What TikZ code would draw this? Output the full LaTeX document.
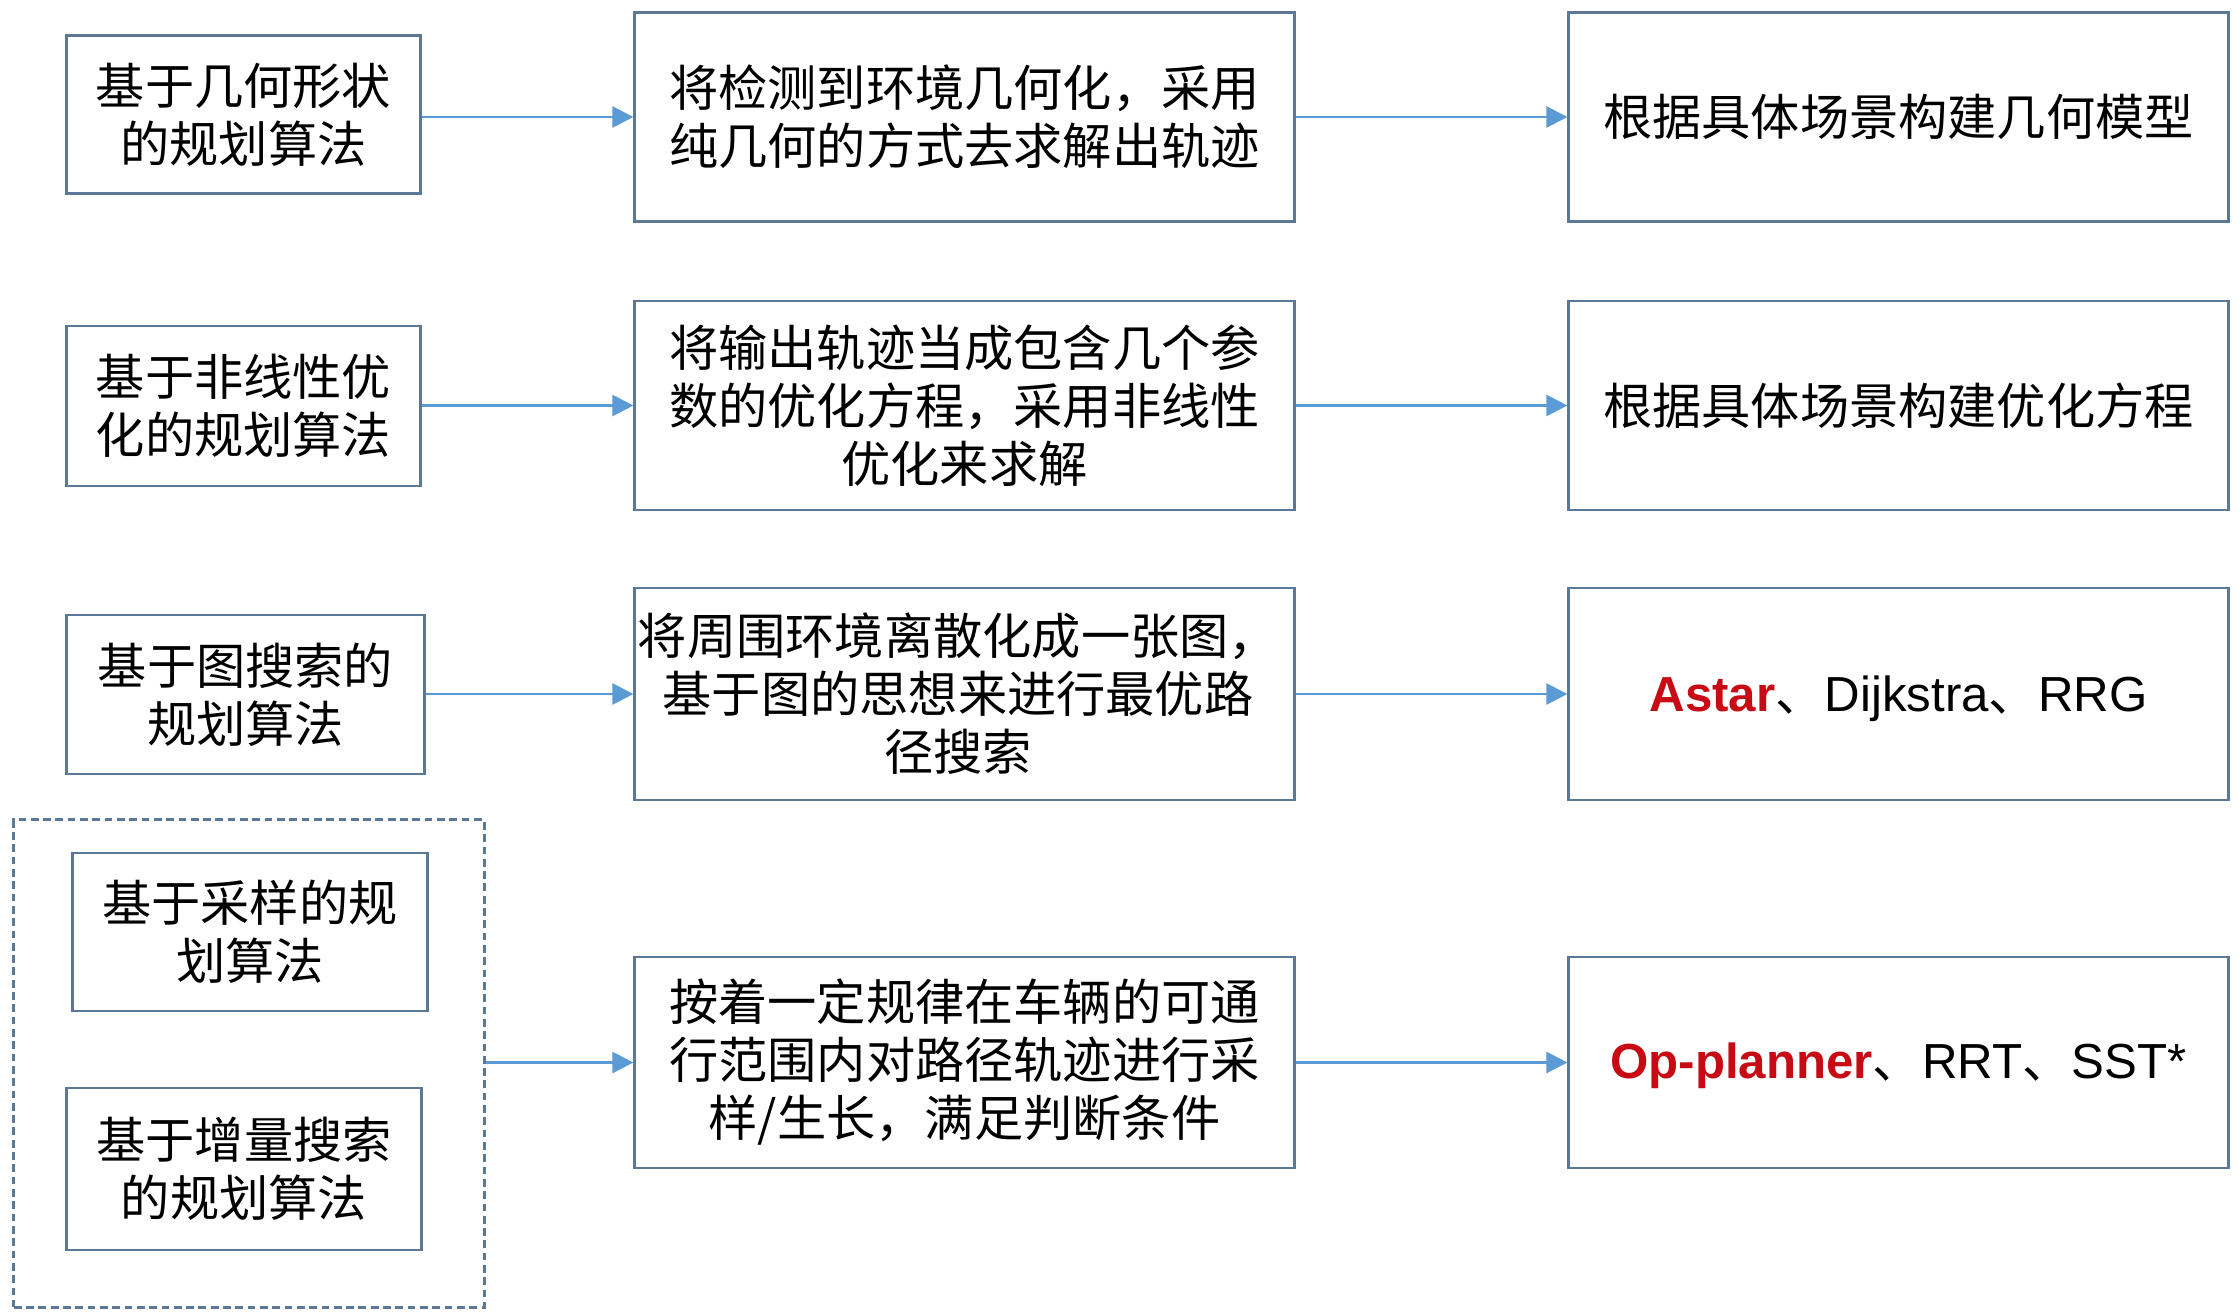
\documentclass[tikz,border=0pt]{standalone}
\usepackage{fontspec}
\setmainfont{Liberation Sans}
\newfontfamily\cjk{Noto Sans CJK SC}
\usetikzlibrary{arrows.meta}
\definecolor{boxc}{HTML}{5B7896}
\definecolor{arrc}{HTML}{5B9BD5}
\definecolor{redt}{HTML}{C80A14}
\tikzset{
  box/.style={draw=boxc, line width=0.8pt, fill=white, inner sep=0pt, align=center,
    font=\cjk\fontsize{14}{16.5}\selectfont},
  abox/.style={box, minimum width=3.53cm, minimum height=1.58cm},
  bbox/.style={box, minimum width=6.59cm, minimum height=2.09cm},
  txt/.style={inner sep=0pt, align=center},
  grpbox/.style={draw=boxc, line width=0.8pt, dash pattern=on 2.2pt off 1.3pt, inner sep=0pt,
    minimum width=4.70cm, minimum height=4.87cm},
  arr/.style={draw=arrc, line width=0.7pt, -{Triangle[length=6pt,width=6pt]}},
}
\newcommand{\dun}{{\cjk 、}}
\begin{document}
\begin{tikzpicture}[x=0.01cm,y=-0.01cm]
\useasboundingbox[fill=white] (0,0) rectangle (2239,1312);
% row 1
\node[abox] (A1) at (243.5,114.5) {基于几何形状\\的规划算法};
\node[bbox] (B1) at (964.5,117) {将检测到环境几何化，采用\\纯几何的方式去求解出轨迹};
\node[bbox] (C1) at (1898.5,117) {根据具体场景构建几何模型};
% row 2
\node[abox, minimum height=1.60cm] (A2) at (243.5,406) {基于非线性优\\化的规划算法};
\node[bbox] (B2) at (964.5,405.5) {将输出轨迹当成包含几个参\\数的优化方程，采用非线性\\优化来求解};
\node[bbox] (C2) at (1898.5,405.5) {根据具体场景构建优化方程};
% row 3
\node[abox, minimum width=3.57cm, minimum height=1.59cm] (A3) at (245.5,694.5) {基于图搜索的\\规划算法};
\node[bbox, minimum height=2.12cm] (B3) at (964.5,694) {};
\node[txt, font=\cjk\fontsize{14}{16.5}\selectfont] (B3t) at (958,694) {将周围环境离散化成一张图，\\基于图的思想来进行最优路\\径搜索};
\node[bbox, minimum height=2.12cm] (C3) at (1898.5,694) {};
\node[txt, font=\fontsize{14}{16.5}\selectfont] (C3t) at (1898.5,699)
  {\textbf{\color{redt}Astar}\dun Dijkstra\dun RRG};
% row 4
\node[grpbox] (G) at (249,1063.5) {};
\node[abox, minimum width=3.54cm] (A4a) at (250,932) {基于采样的规\\划算法};
\node[abox, minimum width=3.54cm, minimum height=1.62cm] (A4b) at (244,1169) {基于增量搜索\\的规划算法};
\node[bbox, minimum height=2.11cm] (B4) at (964.5,1062.5) {按着一定规律在车辆的可通\\行范围内对路径轨迹进行采\\样/生长，满足判断条件};
\node[bbox, minimum height=2.11cm] (C4) at (1898.5,1062.5) {};
\node[txt, font=\fontsize{14}{16.5}\selectfont] (C4t) at (1898.5,1066)
  {\textbf{\color{redt}Op-planner}\dun RRT\dun SST*};
% arrows
\draw[arr] (A1.east |- B1.west) -- (B1.west);
\draw[arr] (B1.east) -- (C1.west);
\draw[arr] (A2.east |- B2.west) -- (B2.west);
\draw[arr] (B2.east) -- (C2.west);
\draw[arr] (A3.east |- B3.west) -- (B3.west);
\draw[arr] (B3.east) -- (C3.west);
\draw[arr] (G.east |- B4.west) -- (B4.west);
\draw[arr] (B4.east) -- (C4.west);
\end{tikzpicture}
\end{document}
